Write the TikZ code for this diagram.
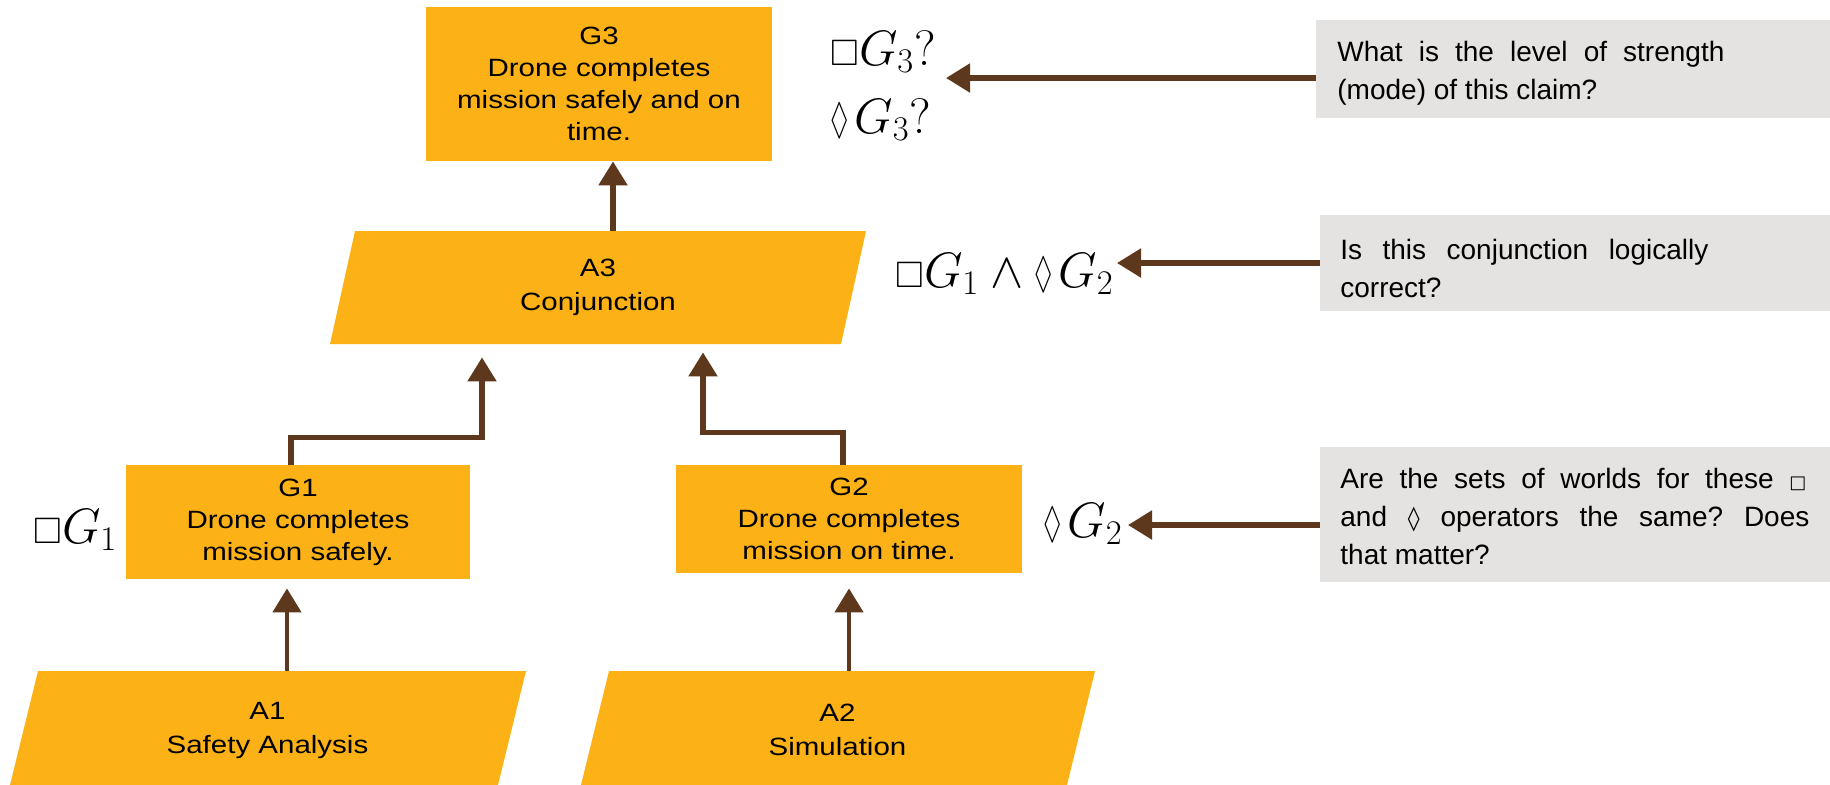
\documentclass[tikz,border=0pt]{standalone}
\usepackage{amssymb}
\usepackage{graphicx}
\usepackage{fontspec}
\setmainfont{Liberation Sans}
\newfontfamily\boxfont[FakeStretch=1.18]{Liberation Sans}
\newfontfamily\glyphfont{DejaVu Sans}
\usetikzlibrary{arrows.meta}

\definecolor{amber}{RGB}{252,178,23}
\definecolor{bark}{RGB}{94,56,29}
\definecolor{mist}{RGB}{228,227,225}

% modal operators: small square, tall narrow lozenge
\newcommand{\mnec}{\mathord{\scalebox{0.8}{$\square$}}}
\newcommand{\mposs}{\mathord{\scalebox{0.6}[0.95]{$\lozenge$}}\mkern2mu}
% a line whose word spaces stretch evenly to the given width
\newcommand{\fullline}[2]{\hbox to #1{\frenchspacing
  \spaceskip=\fontdimen2\font plus 1fil\relax
  \xspaceskip=\spaceskip #2}}

\tikzset{
  goal/.style={fill=amber, inner sep=0pt, align=center,
    font=\boxfont\fontsize{12.5pt}{16pt}\selectfont},
  para/.style={inner sep=0pt, align=center,
    font=\boxfont\fontsize{12.5pt}{17pt}\selectfont,
    path picture={\fill[amber]
      ([xshift=#1]path picture bounding box.north west) --
      (path picture bounding box.north east) --
      ([xshift=-#1]path picture bounding box.south east) --
      (path picture bounding box.south west) -- cycle;}},
  notebox/.style={fill=mist, anchor=north west, inner sep=0pt},
  notetext/.style={anchor=west, inner sep=0pt, align=left,
    font=\fontsize{14pt}{19pt}\selectfont},
  modal/.style={inner sep=0pt, anchor=base west,
    font=\fontsize{23pt}{27pt}\selectfont},
  arr/.style={draw=bark, line width=2.6pt,
    -{Triangle[length=12pt,width=14pt]}},
  arrthin/.style={arr, line width=2.2pt},
}

\begin{document}
\begin{tikzpicture}[x=0.5pt,y=-0.5pt]
\useasboundingbox (0,0) rectangle (1830,784);
\fill[white] (0,0) rectangle (1830,784);
\clip (0,0) rectangle (1830,784);

% goals
\node[goal, minimum width=173pt, minimum height=77pt] (G3) at (599,84)
  {G3\\Drone completes\\mission safely and on\\time.};
\node[goal, minimum width=172pt, minimum height=57pt] (G1) at (298,522)
  {G1\\Drone completes\\mission safely.};
\node[goal, minimum width=173pt, minimum height=54pt] (G2) at (849,519)
  {G2\\Drone completes\\mission on time.};

% argument steps
\node[para=12.5pt, minimum width=268pt, minimum height=56.5pt] (A3) at (598,287.5)
  {A3\\Conjunction};
\node[para=14.5pt, minimum width=258.5pt, minimum height=59pt] (A1) at (267.5,730)
  {A1\\Safety Analysis};
\node[para=14.5pt, minimum width=257.5pt, minimum height=59pt] (A2) at (837.5,730)
  {A2\\Simulation};

% support links
\draw[arr] ([xshift=7.5pt]A3.north) -- ([xshift=7.5pt]A3.north |- G3.south);
\draw[arr] ([xshift=-3.5pt]G1.north) |- ([xshift=-58pt,yshift=-46.5pt]A3.south)
  -- ([xshift=-58pt,yshift=-6.5pt]A3.south);
\draw[arr] ([xshift=-3pt]G2.north) |- ([xshift=52.5pt,yshift=-44pt]A3.south)
  -- ([xshift=52.5pt,yshift=-4pt]A3.south);
\draw[arrthin] ([xshift=-5.5pt]G1.south |- A1.north) -- ([xshift=-5.5pt,yshift=-4.5pt]G1.south);
\draw[arrthin] (G2.south |- A2.north) -- ([yshift=-7.5pt]G2.south);

% modal annotations
\node[modal] (m3a) at (830,65) {$\mnec G_3?$};
\node[modal] (m3b) at (830,133) {$\mposs G_3?$};
\node[modal] (m12) at (895,287) {$\mnec G_1\wedge\mposs G_2$};
\node[modal] (m1) at (33,543) {$\mnec G_1$};
\node[modal] (m2) at (1043,537) {$\mposs G_2$};

% questions
\node[notebox, minimum width=257pt, minimum height=49pt] (Q1) at (1316,20) {};
\node[notetext] (Q1t) at (1337,73)
  {\fullline{193.5pt}{What is the level of strength}\\(mode) of this claim?};
\node[notebox, minimum width=255pt, minimum height=48pt] (Q2) at (1320,215) {};
\node[notetext] (Q2t) at (1340,268)
  {\fullline{184pt}{Is this conjunction logically}\\correct?};
\node[notebox, minimum width=255pt, minimum height=67.5pt] (Q3) at (1320,447) {};
\node[notetext] (Q3t) at (1340,516.5)
  {\fullline{233pt}{Are the sets of worlds for these {\glyphfont\fontsize{9pt}{9pt}\selectfont □}}\\
   \fullline{234.5pt}{and {\glyphfont\fontsize{12pt}{12pt}\selectfont ◊} operators the same? Does}\\that matter?};

\coordinate (t1) at (946,78);
\coordinate (t2) at (1117,263);
\coordinate (t3) at (1128,525);
\draw[arr] (Q1.west |- t1) -- (t1);
\draw[arr] (Q2.west |- t2) -- (t2);
\draw[arr] (Q3.west |- t3) -- (t3);
\end{tikzpicture}
\end{document}
